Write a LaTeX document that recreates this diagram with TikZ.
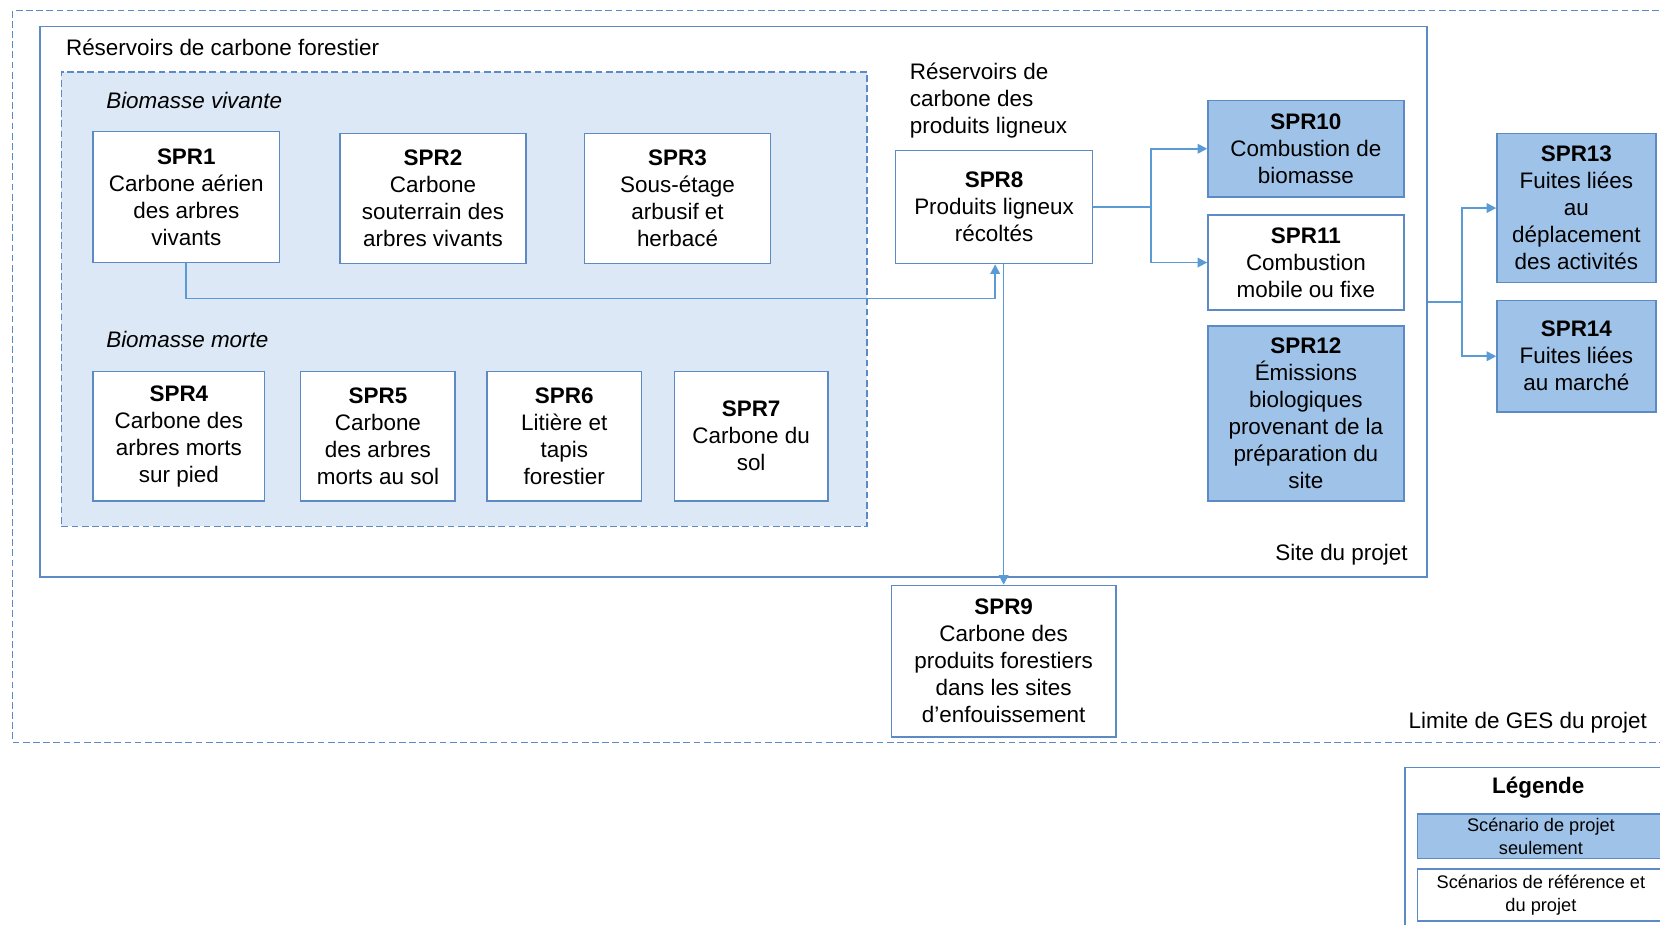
\documentclass[tikz,border=0pt]{standalone}
\usepackage{fontspec}
\setmainfont{Liberation Sans}
\usetikzlibrary{arrows.meta}
\definecolor{bord}{HTML}{5B8AC4}
\definecolor{lnk}{HTML}{5B9BD5}
\definecolor{fillb}{HTML}{9FC3E8}
\definecolor{bio}{HTML}{DCE8F5}
\newcommand{\mainfs}{\fontsize{10.6pt}{12.75pt}\selectfont}
\newcommand{\legfs}{\fontsize{8.6pt}{10.5pt}\selectfont}
\tikzset{
  box/.style={draw=bord, line width=0.7pt, fill=white, align=center, inner sep=0pt, font=\mainfs},
  fbox/.style={box, fill=fillb},
  dashbox/.style={draw=bord, line width=0.6pt, dash pattern=on 3.2pt off 1.6pt},
  lbl/.style={inner sep=0pt, font=\mainfs},
  conn/.style={draw=lnk, line width=0.8pt},
  arr/.style={conn, -{Triangle[length=4.5pt,width=4.5pt]}}
}
\begin{document}
\begin{tikzpicture}[x=0.5pt,y=-0.5pt]
\useasboundingbox (0,0) rectangle (1568,873);
\clip (0,0) rectangle (1568,873);
% outer GES boundary
\node[dashbox, minimum width=804pt, minimum height=345.5pt, inner sep=0pt] (ges) at (816,355.5) {};
\node[lbl, anchor=east] (geslbl) at (1556,683) {Limite de GES du projet};
% project site
\node[draw=bord, line width=0.7pt, minimum width=655pt, minimum height=260pt, inner sep=0pt] (site) at (693,285) {};
\node[lbl, anchor=west] (forlbl) at (62,45) {Réservoirs de carbone forestier};
\node[lbl, anchor=east] (sitelbl) at (1330,524) {Site du projet};
% biomass group
\node[dashbox, fill=bio, minimum width=380.5pt, minimum height=214.5pt, inner sep=0pt] (bioz) at (438.5,282.5) {};
\node[lbl, anchor=west, font=\mainfs\itshape] (vivlbl) at (100,95) {Biomasse vivante};
\node[lbl, anchor=west, font=\mainfs\itshape] (morlbl) at (100,321) {Biomasse morte};
% living biomass
\node[box, minimum width=88pt, minimum height=62pt] (spr1) at (176,186) {\textbf{SPR1}\\Carbone aérien\\des arbres\\vivants};
\node[box, minimum width=88pt, minimum height=61.5pt] (spr2) at (409,187.5) {\textbf{SPR2}\\Carbone\\souterrain des\\arbres vivants};
\node[box, minimum width=88pt, minimum height=61.5pt] (spr3) at (640,187.5) {\textbf{SPR3}\\Sous-étage\\arbusif et\\herbacé};
% dead biomass
\node[box, minimum width=81pt, minimum height=61pt] (spr4) at (169,412) {\textbf{SPR4}\\Carbone des\\arbres morts\\sur pied};
\node[box, minimum width=73pt, minimum height=61pt] (spr5) at (357,412) {\textbf{SPR5}\\Carbone\\des arbres\\morts au sol};
\node[box, minimum width=73pt, minimum height=61pt] (spr6) at (533,412) {\textbf{SPR6}\\Litière et\\tapis\\forestier};
\node[box, minimum width=72.5pt, minimum height=61pt] (spr7) at (709.5,412) {\textbf{SPR7}\\Carbone du\\sol};
% wood products
\node[lbl, anchor=west, align=left] (wplbl) at (859,95) {Réservoirs de\\carbone des\\produits ligneux};
\node[box, minimum width=93pt, minimum height=53.5pt] (spr8) at (939,195.5) {\textbf{SPR8}\\Produits ligneux\\récoltés};
\node[box, minimum width=106pt, minimum height=71.5pt] (spr9) at (948,624.5) {\textbf{SPR9}\\Carbone des\\produits forestiers\\dans les sites\\d’enfouissement};
% emissions
\node[fbox, minimum width=92.5pt, minimum height=45.5pt] (spr10) at (1233.5,140.5) {\textbf{SPR10}\\Combustion de\\biomasse};
\node[box, minimum width=92.5pt, minimum height=45pt] (spr11) at (1233.5,248) {\textbf{SPR11}\\Combustion\\mobile ou fixe};
\node[fbox, minimum width=92.5pt, minimum height=82.5pt] (spr12) at (1233.5,390.5) {\textbf{SPR12}\\Émissions\\biologiques\\provenant de la\\préparation du\\site};
% leakage
\node[fbox, minimum width=75pt, minimum height=70.5pt] (spr13) at (1489,196.5) {\textbf{SPR13}\\Fuites liées\\au\\déplacement\\des activités};
\node[fbox, minimum width=75pt, minimum height=52.5pt] (spr14) at (1489,336.5) {\textbf{SPR14}\\Fuites liées\\au marché};
% connectors
\coordinate (j1) at (940,282);
\draw[arr] (spr1.south) |- (j1) -- (j1 |- spr8.south);
\draw[arr] (spr9.north |- spr8.south) -- (spr9.north);
\coordinate (b1) at (1087,195.5);
\draw[conn] (spr8.east) -- (b1);
\draw[arr] (b1) |- (spr10.west);
\draw[arr] (b1) |- (spr11.west);
\coordinate (b2) at (1381,285);
\draw[conn] (site.east) -- (b2);
\draw[arr] (b2) |- (spr13.west);
\draw[arr] (b2) |- (spr14.west);
% legend
\node[draw=bord, line width=0.7pt, minimum width=126.5pt, minimum height=100pt, inner sep=0pt] (leg) at (1453.5,825) {};
\node[lbl, font=\mainfs\bfseries] (legt) at (1453,744) {Légende};
\node[fbox, font=\legfs, minimum width=116.5pt, minimum height=21pt] (leg1) at (1455.5,790) {Scénario de projet\\seulement};
\node[box, font=\legfs, minimum width=116.5pt, minimum height=24.5pt] (leg2) at (1455.5,845.5) {Scénarios de référence et\\du projet};
\end{tikzpicture}
\end{document}
